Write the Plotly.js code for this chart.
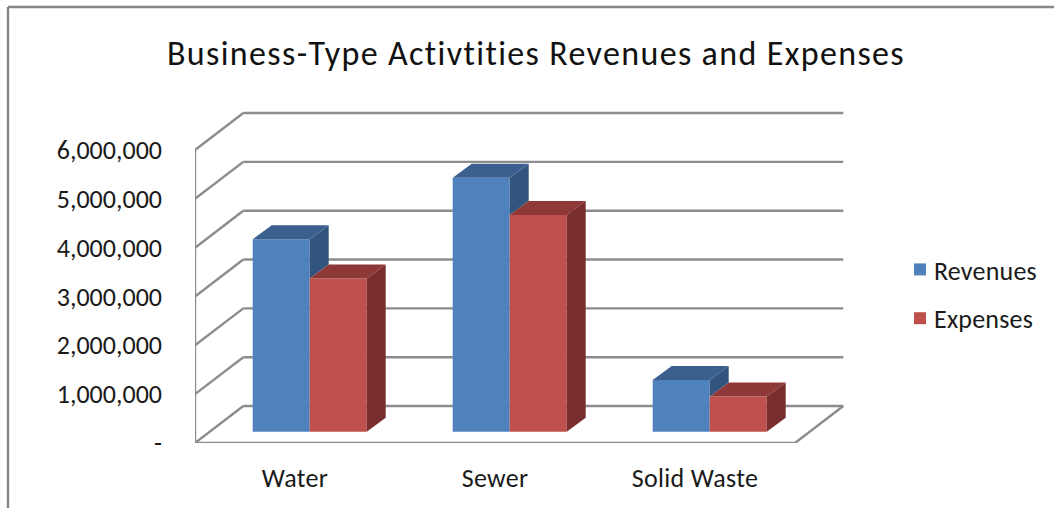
<!DOCTYPE html>
<html>
<head>
<meta charset="utf-8">
<script src="https://cdn.plot.ly/plotly-3.0.1.min.js"></script>
<style>
html,body{margin:0;padding:0;background:#fff;overflow:hidden}
#chart{width:1054px;height:508px}
.gtitle{letter-spacing:1.35px}
.xtick text{letter-spacing:.3px}
.legendtext{letter-spacing:.2px;transform:translateX(-6px)}
.legendbar path{transform:scale(1.17)}
</style>
</head>
<body>
<div id="chart"></div>
<script>
const categories = ["Water", "Sewer", "Solid Waste"];
const revenues = [3940000, 5200000, 1060000];
const expenses = [3140000, 4440000, 720000];
const yTickValues = [0, 1000000, 2000000, 3000000, 4000000, 5000000, 6000000];
const yTickLabels = ["-", "1,000,000", "2,000,000", "3,000,000", "4,000,000", "5,000,000", "6,000,000"];

const font = "Carlito, Lato, 'Open Sans', sans-serif";
const textColor = "#1a1a1a";
const gridColor = "#8c8c8c";

// Oblique projection of the chart box, in axis units
const wallDX = 0.2415, wallDY = 757000;
const barShiftX = 0.0735, barBase = 231000;
const barDX = 0.095, barDY = 287000, barW = 0.285;
const xMax = 3.275, yMax = 6922000;

const centers = categories.map((_, i) => i + 0.5);
const xRev = centers.map(c => c + barShiftX - barW);
const xExp = centers.map(c => c + barShiftX);

function poly(points) { return points.concat([points[0], [null, null]]); }
function faceTrace(polys, color) {
  const pts = polys.flatMap(poly);
  return {
    type: "scatter", mode: "lines", x: pts.map(p => p[0]), y: pts.map(p => p[1]),
    fill: "toself", fillcolor: color, line: {width: 0, color: color},
    showlegend: false, hoverinfo: "skip"
  };
}
const topFace = (x, v) => [[x, v], [x + barDX, v + barDY], [x + barW + barDX, v + barDY], [x + barW, v]];
const sideFace = (x, lo, hi) => [[x, lo], [x + barDX, lo + barDY], [x + barDX, hi + barDY], [x, hi]];

const traces = [
  {type: "bar", name: "Revenues", x: xRev, y: revenues, base: barBase, width: barW, offset: 0,
   marker: {color: "#4F81BD"}, legendgroup: "a", hoverinfo: "y+name"},
  {type: "bar", name: "Expenses", x: xExp, y: expenses, base: barBase, width: barW, offset: 0,
   marker: {color: "#C0504D"}, legendgroup: "b", hoverinfo: "y+name"},
  faceTrace(xRev.map((x, i) => sideFace(x + barW, barBase + expenses[i], barBase + revenues[i])), "#32557F"),
  faceTrace(xRev.map((x, i) => topFace(x, barBase + revenues[i])), "#3B6090"),
  faceTrace(xExp.map((x, i) => sideFace(x + barW, barBase, barBase + expenses[i])), "#7A2F2E"),
  faceTrace(xExp.map((x, i) => topFace(x, barBase + expenses[i])), "#8E3937")
];

function seg(x0, y0, x1, y1, xref, yref, color) {
  return {type: "line", layer: "below", xref: xref || "x", yref: yref || "y", x0, y0, x1, y1,
          line: {color: color || gridColor, width: 2.4}};
}
const shapes = [];
yTickValues.forEach(v => {
  shapes.push(seg(0, v, wallDX, v + wallDY));
  shapes.push(seg(wallDX, v + wallDY, wallDX + 3, v + wallDY));
});
shapes.push(seg(0, 0, 0, 6000000));
shapes.push(seg(0, 0, 3, 0));
shapes.push(seg(3, 0, 3 + wallDX, wallDY));

// Outer chart frame (partly cropped in the reference)
const px = p => (p - 195) / 655, py = p => (443 - p) / 338;
shapes.push(seg(px(8), py(7), px(8), py(508), "paper", "paper", "#868686"));
shapes.push(seg(px(8), py(7), px(1054), py(7), "paper", "paper", "#868686"));

const layout = {
  width: 1054, height: 508,
  margin: {l: 195, r: 204, t: 105, b: 65, autoexpand: false},
  paper_bgcolor: "#fff", plot_bgcolor: "rgba(0,0,0,0)",
  showlegend: true,
  title: {text: "Business-Type Activtities Revenues and Expenses",
          font: {family: font, size: 34, color: "#111"},
          x: 536 / 1054, xref: "container", xanchor: "center",
          y: 1 - 53 / 508, yref: "container", yanchor: "middle"},
  xaxis: {range: [0, xMax], tickmode: "array", tickvals: centers, ticktext: categories,
          showgrid: false, zeroline: false, showline: false, ticks: "",
          ticklabelstandoff: 17, tickfont: {family: font, size: 26, color: textColor}, fixedrange: true},
  yaxis: {range: [0, yMax], tickmode: "array", tickvals: yTickValues, ticktext: yTickLabels,
          showgrid: false, zeroline: false, showline: false, ticks: "",
          ticklabelstandoff: 32, tickfont: {family: font, size: 26, color: textColor}, fixedrange: true},
  legend: {xref: "container", yref: "container", x: 900 / 1054, y: 1 - 246 / 508,
           xanchor: "left", yanchor: "top", tracegroupgap: 12, itemwidth: 30, traceorder: "grouped",
           font: {family: font, size: 26, color: textColor}, bgcolor: "rgba(0,0,0,0)"},
  shapes: shapes
};
Plotly.newPlot("chart", traces, layout, {displayModeBar: false, staticPlot: true});
</script>
</body>
</html>
